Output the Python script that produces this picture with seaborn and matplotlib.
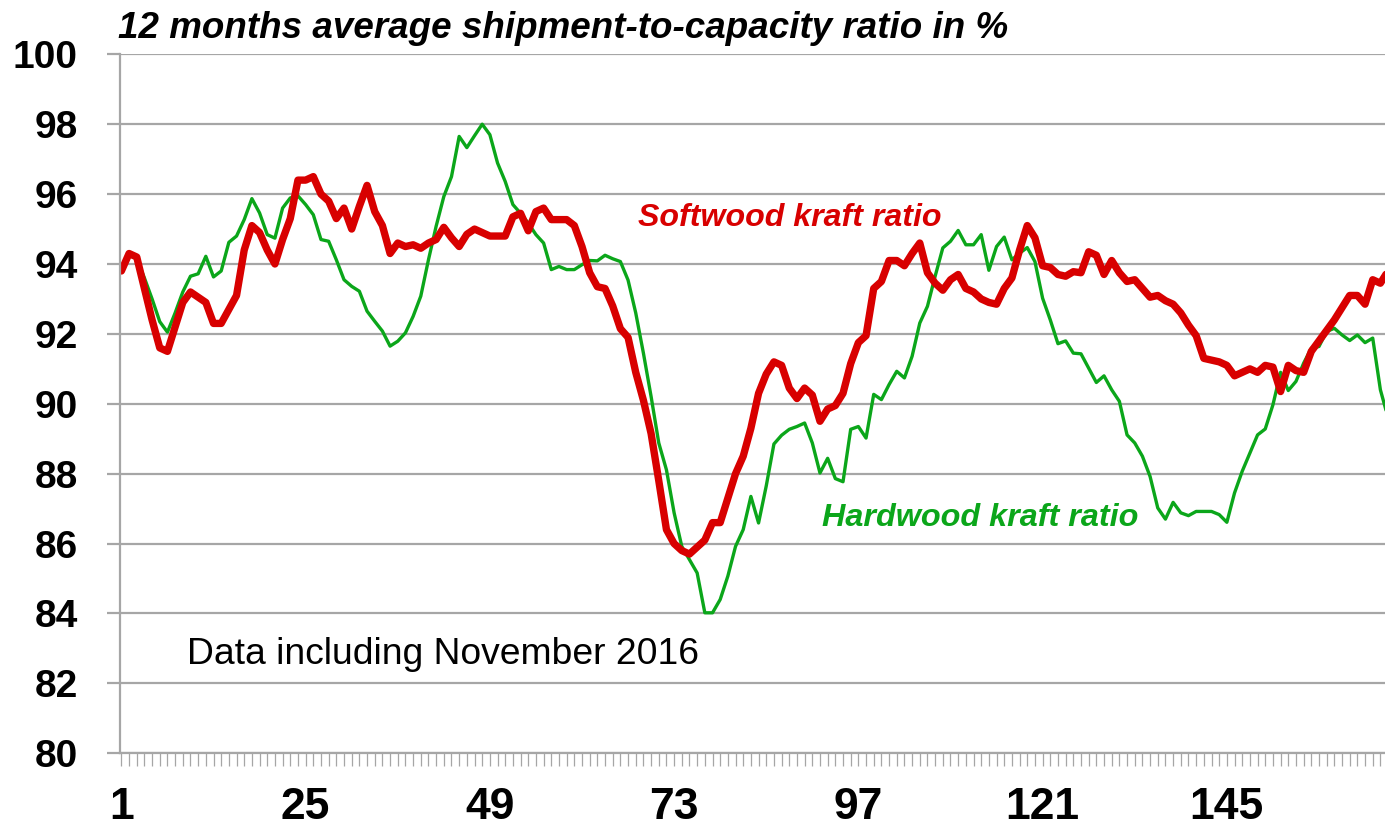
import numpy as np
import pandas as pd
import matplotlib
matplotlib.use('Agg')
import matplotlib.pyplot as plt
import seaborn as sns
from matplotlib.ticker import FixedLocator

# month index (data up to November 2016)
months = np.arange(1, 167)

softwood = [
    93.8, 94.3, 94.2, 93.3, 92.4, 91.6, 91.5, 92.2, 92.9, 93.2,
    93.05, 92.9, 92.3, 92.3, 92.7, 93.1, 94.4, 95.1, 94.9, 94.4,
    94.0, 94.7, 95.3, 96.4, 96.4, 96.5, 96.0, 95.8, 95.3, 95.6,
    95.0, 95.65, 96.25, 95.5, 95.1, 94.3, 94.6, 94.5, 94.55, 94.45,
    94.6, 94.7, 95.05, 94.75, 94.5, 94.85, 95.0, 94.9, 94.8, 94.8,
    94.8, 95.35, 95.45, 94.95, 95.5, 95.6, 95.27, 95.27, 95.27, 95.1,
    94.5, 93.75, 93.35, 93.3, 92.8, 92.15, 91.9, 90.9, 90.1, 89.15,
    87.8, 86.4, 86.0, 85.8, 85.7, 85.9, 86.1, 86.6, 86.6, 87.3,
    88.0, 88.5, 89.3, 90.3, 90.85, 91.2, 91.1, 90.45, 90.15, 90.45,
    90.25, 89.5, 89.85, 89.95, 90.3, 91.15, 91.75, 91.95, 93.3, 93.5,
    94.1, 94.1, 93.95, 94.3, 94.6, 93.75, 93.45, 93.25, 93.55, 93.7,
    93.3, 93.2, 93.0, 92.9, 92.85, 93.3, 93.6, 94.4, 95.1, 94.75,
    93.95, 93.9, 93.7, 93.65, 93.78, 93.75, 94.35, 94.25, 93.7, 94.1,
    93.75, 93.5, 93.55, 93.3, 93.05, 93.1, 92.95, 92.85, 92.6, 92.25,
    91.95, 91.3, 91.25, 91.2, 91.1, 90.8, 90.9, 91.0, 90.9, 91.1,
    91.05, 90.35, 91.1, 90.95, 90.9, 91.5, 91.8, 92.1, 92.4, 92.75,
    93.1, 93.1, 92.85, 93.55, 93.45, 93.8,
]

hardwood = [
    93.8, 94.25, 94.15, 93.6, 93.0, 92.35, 92.05, 92.6, 93.2, 93.65,
    93.72, 94.22, 93.63, 93.8, 94.62, 94.8, 95.27, 95.87, 95.46, 94.84,
    94.74, 95.6, 95.89, 95.95, 95.7, 95.41, 94.7, 94.65, 94.12, 93.55,
    93.36, 93.22, 92.65, 92.36, 92.08, 91.65, 91.79, 92.03, 92.5, 93.08,
    94.12, 95.08, 95.93, 96.5, 97.65, 97.33, 97.67, 98.0, 97.7, 96.89,
    96.36, 95.7, 95.45, 95.17, 94.84, 94.6, 93.84, 93.93, 93.84, 93.84,
    93.98, 94.1, 94.09, 94.25, 94.15, 94.07, 93.54, 92.6, 91.45, 90.21,
    88.88, 88.11, 86.88, 85.92, 85.54, 85.16, 84.02, 84.02, 84.4, 85.07,
    85.92, 86.4, 87.35, 86.59, 87.65, 88.85, 89.1, 89.27, 89.35, 89.45,
    88.88, 88.02, 88.44, 87.86, 87.77, 89.27, 89.35, 89.02, 90.27, 90.12,
    90.55, 90.93, 90.74, 91.36, 92.31, 92.79, 93.65, 94.46, 94.65, 94.96,
    94.55, 94.55, 94.84, 93.82, 94.5, 94.77, 94.12, 94.31, 94.47, 94.07,
    93.02, 92.4, 91.72, 91.8, 91.45, 91.43, 91.02, 90.61, 90.8, 90.4,
    90.07, 89.11, 88.88, 88.5, 87.92, 87.02, 86.7, 87.18, 86.88, 86.8,
    86.92, 86.92, 86.92, 86.83, 86.61, 87.45, 88.07, 88.59, 89.11, 89.28,
    89.97, 90.9, 90.38, 90.64, 91.16, 91.59, 91.64, 92.07, 92.16, 91.97,
    91.81, 91.97, 91.75, 91.88, 90.4, 89.6,
]

y_ticks = list(range(80, 101, 2))
x_labels = [1, 25, 49, 73, 97, 121, 145]

title = '12 months average shipment-to-capacity ratio in %'
note = 'Data including November 2016'

red = '#D80000'
green = '#0BA61A'
grid_gray = '#A6A6A6'

df = pd.DataFrame({'month': months, 'Softwood': softwood, 'Hardwood': hardwood})

sns.set_style('white')
plt.rcParams['font.family'] = ['Liberation Sans', 'DejaVu Sans']
plt.rcParams['text.color'] = 'black'

W, H = 1385, 831
fig = plt.figure(figsize=(W / 100, H / 100), dpi=100)
ax = fig.add_axes([120 / W, 1 - 753.3 / H, 1 - 120 / W, (753.3 - 54.3) / H])

sns.lineplot(data=df, x='month', y='Hardwood', color=green, linewidth=2.4, ax=ax)
sns.lineplot(data=df, x='month', y='Softwood', color=red, linewidth=5.3, ax=ax)

ax.set_xlim(0.82, 165.6)
ax.set_ylim(80, 100)
ax.set_xlabel('')
ax.set_ylabel('')

ax.set_yticks(y_ticks)
ax.set_yticklabels([str(v) for v in y_ticks], fontsize=28, fontweight='bold')
ax.xaxis.set_major_locator(FixedLocator(x_labels))
ax.set_xticklabels([str(v) for v in x_labels], fontsize=32, fontweight='bold')
ax.xaxis.set_minor_locator(FixedLocator(months))

ax.grid(axis='y', color=grid_gray, linewidth=1.6)
ax.set_axisbelow(True)
for side in ['top', 'right']:
    ax.spines[side].set_visible(False)
for side in ['left', 'bottom']:
    ax.spines[side].set_color(grid_gray)
    ax.spines[side].set_linewidth(1.6)

ax.tick_params(axis='y', which='major', direction='out', length=9.5, width=1.6,
               color=grid_gray, labelcolor='black', pad=21, left=True)
ax.tick_params(axis='x', which='both', direction='out', length=9.5, width=0.9,
               color=grid_gray, labelcolor='black', pad=15, bottom=True)

fig.text(118 / W, 1 - 28 / H, title, fontsize=26.5, fontweight='bold', style='italic',
         va='center', ha='left', color='black')
fig.text(638 / W, 1 - 218 / H, 'Softwood kraft ratio', fontsize=23.1, fontweight='bold',
         style='italic', color=red, va='center', ha='left')
fig.text(822 / W, 1 - 518 / H, 'Hardwood kraft ratio', fontsize=23.3, fontweight='bold',
         style='italic', color=green, va='center', ha='left')
fig.text(187 / W, 1 - 655 / H, note, fontsize=26.8, va='center', ha='left', color='black')

fig.savefig('out.png', dpi=100)
